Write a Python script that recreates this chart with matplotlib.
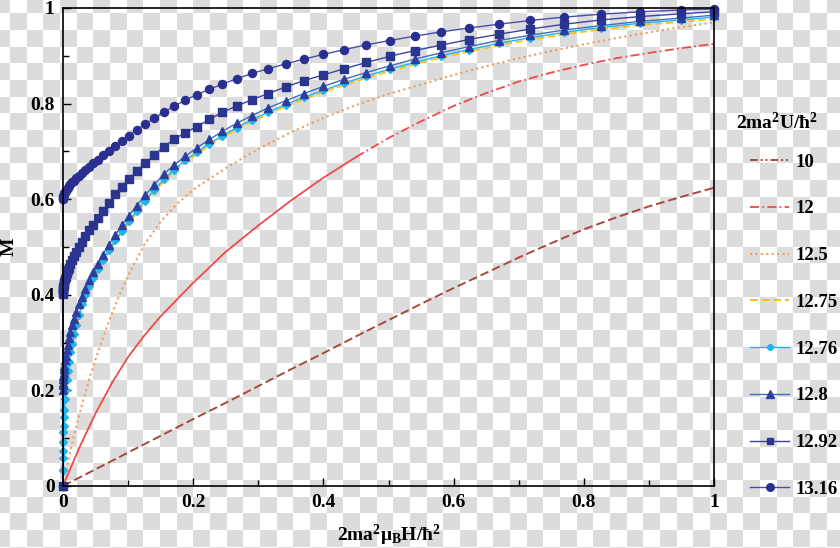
import matplotlib
matplotlib.use('Agg')
import matplotlib.pyplot as plt
import numpy as np
from matplotlib.colors import ListedColormap
from matplotlib.lines import Line2D
from matplotlib.ticker import MultipleLocator

# ---- data ----
# magnetisation curves M(h), h = 2ma^2 mu_B H / hbar^2
h_10 = [0, 0.05, 0.1, 0.15, 0.2, 0.25, 0.3, 0.35, 0.4, 0.45, 0.5,
        0.55, 0.6, 0.65, 0.7, 0.75, 0.8, 0.85, 0.9, 0.95, 1.0]
m_10 = [0, 0.035, 0.07, 0.105, 0.14, 0.174, 0.209, 0.244, 0.278, 0.313, 0.347,
        0.381, 0.414, 0.446, 0.478, 0.508, 0.537, 0.562, 0.585, 0.605, 0.624]

h_12 = [0, 0.025, 0.05, 0.075, 0.1, 0.125, 0.15, 0.2, 0.25, 0.3, 0.35, 0.4,
        0.45, 0.5, 0.55, 0.6, 0.65, 0.7, 0.75, 0.8, 0.85, 0.9, 0.95, 1.0]
m_12 = [0, 0.08, 0.152, 0.215, 0.27, 0.315, 0.355, 0.425, 0.49, 0.545, 0.597, 0.645,
        0.688, 0.728, 0.763, 0.795, 0.822, 0.846, 0.865, 0.881, 0.895, 0.906, 0.916, 0.925]

h_125 = [0, 0.0025, 0.005, 0.01, 0.015, 0.02, 0.03, 0.04, 0.05, 0.06, 0.075, 0.09,
         0.1, 0.125, 0.15, 0.175, 0.2, 0.25, 0.3, 0.35, 0.4, 0.45, 0.5, 0.55,
         0.6, 0.65, 0.7, 0.75, 0.8, 0.85, 0.9, 0.95, 1.0]
m_125 = [0, 0.017, 0.033, 0.065, 0.095, 0.122, 0.174, 0.222, 0.265, 0.305, 0.36, 0.41,
         0.44, 0.505, 0.553, 0.59, 0.62, 0.665, 0.705, 0.74, 0.77, 0.797, 0.82, 0.84,
         0.86, 0.878, 0.895, 0.91, 0.924, 0.937, 0.949, 0.96, 0.97]

# common field grid for the curves drawn with symbols
h_sym = [0, 0.00002, 0.0001, 0.0002, 0.0004, 0.0007, 0.001, 0.0015, 0.002, 0.003,
         0.004, 0.0055, 0.007, 0.009, 0.0115, 0.014, 0.017, 0.0205, 0.0245, 0.029,
         0.034, 0.04, 0.046, 0.053, 0.061, 0.07, 0.08, 0.09, 0.101, 0.113,
         0.126, 0.14, 0.155, 0.171, 0.188, 0.206, 0.225, 0.245, 0.267, 0.29,
         0.315, 0.342, 0.37, 0.4, 0.432, 0.466, 0.502, 0.54, 0.58, 0.623,
         0.669, 0.718, 0.77, 0.826, 0.886, 0.95, 1.0]
m_1275 = [0, 0.032, 0.055, 0.071, 0.09, 0.108, 0.122, 0.14, 0.155, 0.178,
          0.196, 0.218, 0.236, 0.256, 0.276, 0.294, 0.313, 0.333, 0.354, 0.376,
          0.396, 0.415, 0.432, 0.45, 0.469, 0.489, 0.51, 0.53, 0.55, 0.571,
          0.593, 0.615, 0.638, 0.658, 0.677, 0.695, 0.712, 0.729, 0.746, 0.762,
          0.778, 0.794, 0.809, 0.824, 0.839, 0.854, 0.868, 0.882, 0.896, 0.909,
          0.922, 0.934, 0.945, 0.955, 0.964, 0.971, 0.977]
m_1276 = [0, 0.034, 0.058, 0.074, 0.093, 0.112, 0.126, 0.144, 0.159, 0.182,
          0.2, 0.222, 0.24, 0.26, 0.28, 0.298, 0.317, 0.337, 0.358, 0.38,
          0.4, 0.419, 0.436, 0.454, 0.473, 0.493, 0.514, 0.534, 0.554, 0.575,
          0.597, 0.619, 0.642, 0.662, 0.681, 0.699, 0.716, 0.733, 0.75, 0.766,
          0.782, 0.798, 0.813, 0.828, 0.843, 0.858, 0.872, 0.886, 0.9, 0.913,
          0.926, 0.938, 0.949, 0.959, 0.968, 0.975, 0.981]
m_128 = [0, 0.2, 0.211, 0.216, 0.223, 0.23, 0.236, 0.245, 0.251, 0.263,
         0.273, 0.285, 0.296, 0.309, 0.323, 0.336, 0.35, 0.365, 0.38, 0.396,
         0.412, 0.43, 0.447, 0.465, 0.484, 0.504, 0.525, 0.545, 0.565, 0.586,
         0.608, 0.63, 0.653, 0.672, 0.69, 0.708, 0.725, 0.742, 0.759, 0.775,
         0.791, 0.806, 0.821, 0.836, 0.851, 0.865, 0.879, 0.893, 0.906, 0.919,
         0.932, 0.943, 0.954, 0.963, 0.972, 0.979, 0.985]
m_1292 = [0, 0.402, 0.406, 0.409, 0.412, 0.416, 0.419, 0.423, 0.427, 0.433,
          0.438, 0.445, 0.451, 0.457, 0.464, 0.472, 0.481, 0.49, 0.5, 0.511,
          0.522, 0.535, 0.547, 0.561, 0.575, 0.592, 0.61, 0.626, 0.642, 0.658,
          0.675, 0.692, 0.71, 0.726, 0.739, 0.752, 0.767, 0.782, 0.795, 0.808,
          0.821, 0.835, 0.848, 0.86, 0.873, 0.886, 0.899, 0.911, 0.922, 0.934,
          0.945, 0.956, 0.966, 0.975, 0.982, 0.988, 0.992]
m_1316 = [0, 0.6, 0.601, 0.602, 0.604, 0.606, 0.608, 0.61, 0.612, 0.615,
          0.618, 0.621, 0.624, 0.627, 0.631, 0.635, 0.639, 0.644, 0.649, 0.655,
          0.661, 0.668, 0.675, 0.683, 0.692, 0.701, 0.711, 0.722, 0.733, 0.745,
          0.757, 0.769, 0.782, 0.795, 0.807, 0.819, 0.83, 0.841, 0.852, 0.863,
          0.873, 0.883, 0.893, 0.903, 0.913, 0.923, 0.932, 0.941, 0.95, 0.958,
          0.966, 0.974, 0.981, 0.987, 0.992, 0.996, 0.998]

U_labels = ['10', '12', '12.5', '12.75', '12.76', '12.8', '12.92', '13.16']
tick_vals = [0, 0.2, 0.4, 0.6, 0.8, 1.0]
tick_text = ['0', '0.2', '0.4', '0.6', '0.8', '1']

# ---- style ----
plt.rcParams['font.family'] = ['Liberation Serif', 'DejaVu Serif']
plt.rcParams['font.weight'] = 'bold'
plt.rcParams['mathtext.fontset'] = 'custom'
plt.rcParams['mathtext.rm'] = 'Liberation Serif:bold'
plt.rcParams['mathtext.it'] = 'Liberation Serif:bold'
plt.rcParams['mathtext.bf'] = 'Liberation Serif:bold'

FS = 14
FS_LEG = 13.5

c10 = '#a8473f'
c12 = '#ef4a4a'
c125 = '#f59a56'
c1275 = '#f5c21b'
c1276 = '#22b5ec'
c128_l, c128_m = '#3f6cc4', '#2c3f9e'
c1292_l, c1292_m = '#3a42a6', '#29358f'
c1316_l, c1316_m = '#4a4cae', '#2b3090'

fig = plt.figure(figsize=(8.4, 5.48), dpi=100)

# transparent-image checkerboard behind everything
bg = fig.add_axes([0, 0, 1, 1], zorder=-1)
sq = 16.67
nx, ny = 52, 35
ii, jj = np.indices((ny, nx))
bg.imshow((ii + jj) % 2, cmap=ListedColormap(['#dcdcdc', 'white']),
          extent=[-6.67, -6.67 + nx * sq, -3.33 + ny * sq, -3.33],
          interpolation='nearest', aspect='auto')
bg.set_xlim(0, 840)
bg.set_ylim(548, 0)
bg.axis('off')

ax = fig.add_axes([63 / 840, 62 / 548, 651 / 840, 478 / 548])
ax.set_facecolor('none')

ax.plot(h_10, m_10, color=c10, lw=1.4, ls=(0, (4.5, 2)))
# red curve: looks solid at low field, dash-dot further out
k = h_12.index(0.45)
ax.plot(h_12[:k + 1], m_12[:k + 1], color=c12, lw=1.3, ls='-')
ax.plot(h_12[k:], m_12[k:], color=c12, lw=1.3, ls=(0, (5, 1.8, 1, 1.8)))
ax.plot(h_125, m_125, color=c125, lw=1.5, ls=(0, (1, 1.6)))
ax.plot(h_sym, m_1275, color=c1275, lw=1.3, ls=(0, (4, 2)))
ax.plot(h_sym, m_1276, color=c1276, lw=1, marker='D', ms=3.6, mfc=c1276, mec=c1276, clip_on=False)
ax.plot(h_sym, m_128, color=c128_l, lw=1, marker='^', ms=6, mfc=c128_m, mec=c128_m, clip_on=False)
ax.plot(h_sym, m_1292, color=c1292_l, lw=1, marker='s', ms=5.2, mfc=c1292_m, mec=c1292_m, clip_on=False)
ax.plot(h_sym, m_1316, color=c1316_l, lw=1, marker='o', ms=5.8, mfc=c1316_m, mec=c1316_m, clip_on=False)

ax.set_xlim(0, 1)
ax.set_ylim(0, 1)
ax.set_xticks(tick_vals)
ax.set_xticklabels(tick_text, fontweight='bold', fontsize=FS)
ax.set_yticks(tick_vals)
ax.set_yticklabels(tick_text, fontweight='bold', fontsize=FS)
ax.xaxis.set_minor_locator(MultipleLocator(0.1))
ax.yaxis.set_minor_locator(MultipleLocator(0.1))
ax.tick_params(which='both', direction='in', top=False, right=False, width=1)
ax.tick_params(which='major', length=6, pad=6)
ax.tick_params(which='minor', length=4)
for s in ax.spines.values():
    s.set_linewidth(1.2)

ax.set_xlabel(r'$\mathbf{2ma^2\mu_BH/\hbar^2}$', fontsize=FS)
ax.xaxis.set_label_coords(0.5, -0.078)
ax.set_ylabel('M', fontsize=FS, fontweight='bold')
ax.yaxis.set_label_coords(-0.069, 0.5)

# legend with the key styles
handles = [
    Line2D([], [], color=c10, lw=1.4, ls=(0, (4, 1.5, 1, 1.5, 1, 1.5))),
    Line2D([], [], color=c12, lw=1.3, ls=(0, (5, 1.8, 1, 1.8))),
    Line2D([], [], color=c125, lw=1.5, ls=(0, (1, 1.6))),
    Line2D([], [], color=c1275, lw=1.4, ls=(0, (4, 2))),
    Line2D([], [], color=c1276, lw=1, marker='o', ms=4, mfc=c1276, mec=c1276),
    Line2D([], [], color=c128_l, lw=1, marker='^', ms=5.5, mfc=c128_m, mec=c128_m),
    Line2D([], [], color=c1292_l, lw=1, marker='s', ms=5, mfc=c1292_m, mec=c1292_m),
    Line2D([], [], color=c1316_l, lw=1, marker='o', ms=5.5, mfc=c1316_m, mec=c1316_m),
]
leg = fig.legend(handles, U_labels, loc='upper left', bbox_to_anchor=(750 / 840, 1 - 153.5 / 548),
                 frameon=False, borderpad=0, borderaxespad=0, handlelength=2.1,
                 handletextpad=0.35, labelspacing=1.58,
                 prop={'size': FS_LEG, 'weight': 'bold'})
fig.text(736 / 840, 1 - 122 / 548, r'$\mathbf{2ma^2U/\hbar^2}$', fontsize=FS,
         ha='left', va='center')

fig.savefig('out.png', dpi=100)
